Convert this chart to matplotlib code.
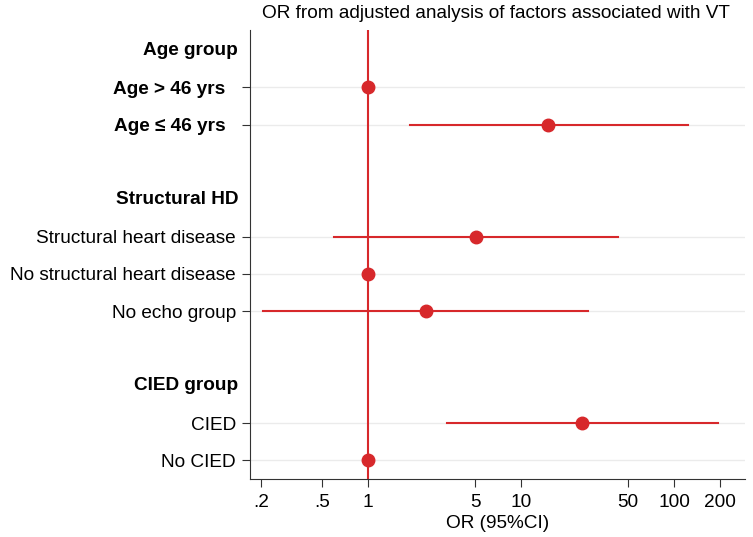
import matplotlib.pyplot as plt
import numpy as np

plt.rcParams["font.family"] = ["Liberation Sans", "DejaVu Sans"]

# rows top to bottom; None = header/blank row
labels = ["Age group", "Age > 46 yrs  ", "Age \u2264 46 yrs  ", "",
          "Structural HD", "Structural heart disease", "No structural heart disease", "No echo group", "",
          "CIED group", "CIED", "No CIED"]
headers = ["Age group", "Structural HD", "CIED group"]
bold_rows = ["Age > 46 yrs  ", "Age \u2264 46 yrs  "]

or_vals = [None, 1.0, 15.0, None, None, 5.1, 1.0, 2.4, None, None, 25.0, 1.0]
ci_low = [None, None, 1.88, None, None, 0.60, None, 0.206, None, None, 3.28, None]
ci_high = [None, None, 123, None, None, 43, None, 27.4, None, None, 194, None]

xticks = [0.2, 0.5, 1, 5, 10, 50, 100, 200]
xticklabels = [".2", ".5", "1", "5", "10", "50", "100", "200"]

red = "#d7282b"
fs = 13.7

fig = plt.figure(figsize=(7.53, 5.37), dpi=100)
ax = fig.add_axes([250 / 753, 1 - 479 / 537, 495 / 753, 449 / 537])

data_rows = [i for i, v in enumerate(or_vals) if v is not None]

for i in data_rows:
    ax.axhline(i, color="#ebebeb", lw=1, zorder=0)

ax.axvline(1, color=red, lw=1.5, zorder=1)

for i in data_rows:
    if ci_low[i] is not None:
        ax.plot([ci_low[i], ci_high[i]], [i, i], color=red, lw=1.5, zorder=2)
    ax.plot(or_vals[i], i, "o", color=red, ms=9, zorder=3)

ax.set_xscale("log")
ax.set_xlim(0.169, 291)
ax.set_ylim(11.5, -0.54)
ax.minorticks_off()
ax.set_xticks(xticks)
ax.set_xticklabels(xticklabels)
ax.tick_params(axis="x", length=6, pad=5, color="#333333", labelsize=fs)

ax.set_yticks(data_rows)
ax.set_yticklabels([labels[i] for i in data_rows])
ax.tick_params(axis="y", length=6, pad=4, color="#333333", labelsize=fs)
for t, i in zip(ax.get_yticklabels(), data_rows):
    if labels[i] in bold_rows:
        t.set_fontweight("bold")

for i, lab in enumerate(labels):
    if lab in headers:
        ax.text(-0.024, i, lab, transform=ax.get_yaxis_transform(), ha="right", va="center",
                fontsize=fs, fontweight="bold")

for s in ["top", "right"]:
    ax.spines[s].set_visible(False)
ax.spines["left"].set_color("#333333")
ax.spines["bottom"].set_color("#333333")

ax.set_xlabel("OR (95%CI)", fontsize=fs, labelpad=3)
fig.text(496 / 753, 1 - 14 / 537, "OR from adjusted analysis of factors associated with VT",
         ha="center", va="center", fontsize=fs)

fig.savefig("out.png", dpi=100, facecolor="white")
